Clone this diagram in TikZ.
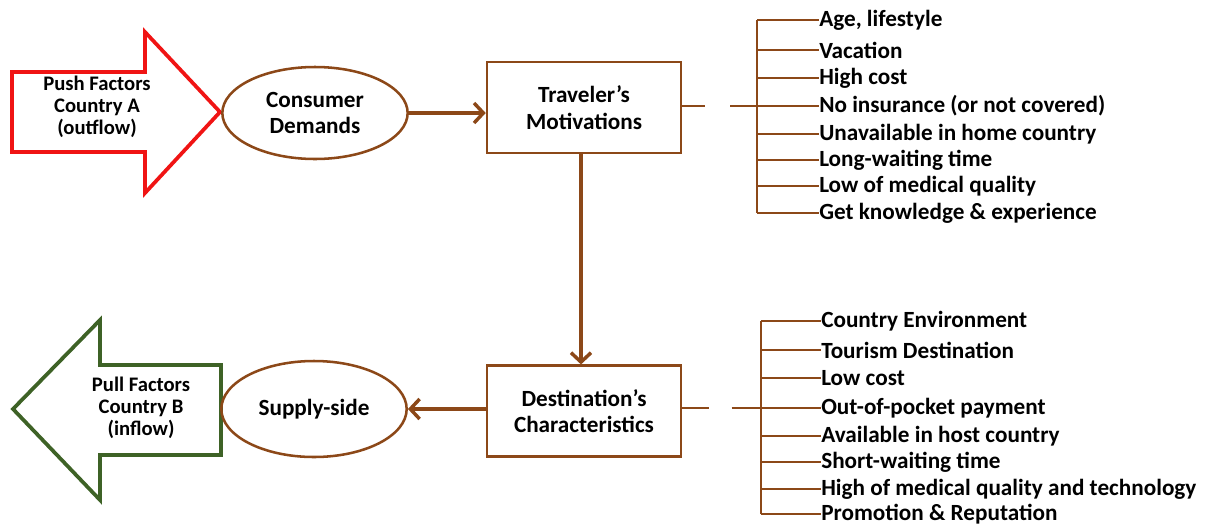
\documentclass[tikz,border=0pt]{standalone}
\usepackage{fontspec}
\setmainfont{Carlito}
\usetikzlibrary{arrows.meta,shapes.geometric}
\definecolor{brn}{RGB}{140,72,24}
\definecolor{pushred}{RGB}{240,20,20}
\definecolor{pullgreen}{RGB}{62,98,38}
\begin{document}
\begin{tikzpicture}[x=0.75pt,y=-0.75pt,
  every node/.style={font=\bfseries\fontsize{17.4}{20}\selectfont},
  oval/.style={ellipse,draw=brn,line width=1.9pt,inner sep=0pt},
  factorbox/.style={draw=brn,line width=1.9pt,minimum width=145.5pt,minimum height=68pt,align=center,inner sep=0pt},
  flow/.style={draw=brn,line width=2.8pt,-{Straight Barb[length=7pt,width=15pt,line width=2.6pt]}},
  bracket/.style={draw=brn,line width=1.9pt},
  item/.style={anchor=west,inner sep=0pt},
  arrowtext/.style={align=center,font=\bfseries\fontsize{15.5}{16.5}\selectfont}]
\useasboundingbox (0,0) rectangle (1210,526);

% push arrow, country A
\draw[pushred,line width=2.8pt,line join=miter]
  (12,72) -- (145,72) -- (145,32) -- (220,112) -- (145,193) -- (145,152) -- (12,152) -- cycle;
\node[arrowtext] (push) at (97,107) {Push Factors\\Country A\\(outflow)};

% pull arrow, country B
\draw[pullgreen,line width=2.8pt,line join=miter]
  (221,365) -- (100,365) -- (100,320) -- (13,409) -- (100,500) -- (100,455) -- (221,455) -- cycle;
\node[arrowtext] (pull) at (141,408) {Pull Factors\\Country B\\(inflow)};

% demand and supply ovals
\node[oval,minimum width=139pt,minimum height=69pt,align=center] (cd) at (315,113) {Consumer\\Demands};
\node[oval,minimum width=139pt,minimum height=72pt] (ss) at (314,409) {Supply-side};

% central boxes
\node[factorbox] (tm) at (584,107.5) {Traveler’s\\Motivations};
\node[factorbox] (dc) at (584,411) {Destination’s\\Characteristics};

% main flow
\draw[flow] (cd.east) -- (tm.west |- cd.east);
\draw[flow] (tm.south -| 581,0) -- (dc.north -| 581,0);
\draw[flow] (dc.west |- 0,409) -- (ss.east |- 0,409);

% motivations list
\coordinate (tmb) at (757,106);
\draw[bracket,dash pattern=on 17pt off 19pt on 40pt] (tm.east |- tmb) -- (tmb);
\draw[bracket] (757,20) -- (757,213);
\foreach \y/\t [count=\i] in {20/{Age, lifestyle},50/Vacation,78/High cost,
   106/No insurance (or not covered),134/Unavailable in home country,
   160/Long-waiting time,186/Low of medical quality,213/Get knowledge \& experience}{
  \node[item] (m\i) at (819,\y) {\t};
  \draw[bracket] (757,\y) -- (m\i.west);
}

% destination list
\coordinate (dcb) at (761,408);
\draw[bracket,dash pattern=on 20pt off 17pt on 40pt] (dc.east |- dcb) -- (dcb);
\draw[bracket] (761,321) -- (761,514);
\foreach \y/\t [count=\i] in {321/Country Environment,350/Tourism Destination,378/Low cost,
   408/Out-of-pocket payment,436/Available in host country,462/Short-waiting time,
   489/High of medical quality and technology,514/Promotion \& Reputation}{
  \node[item] (d\i) at (821,\y) {\t};
  \draw[bracket] (761,\y) -- (d\i.west);
}
\end{tikzpicture}
\end{document}
